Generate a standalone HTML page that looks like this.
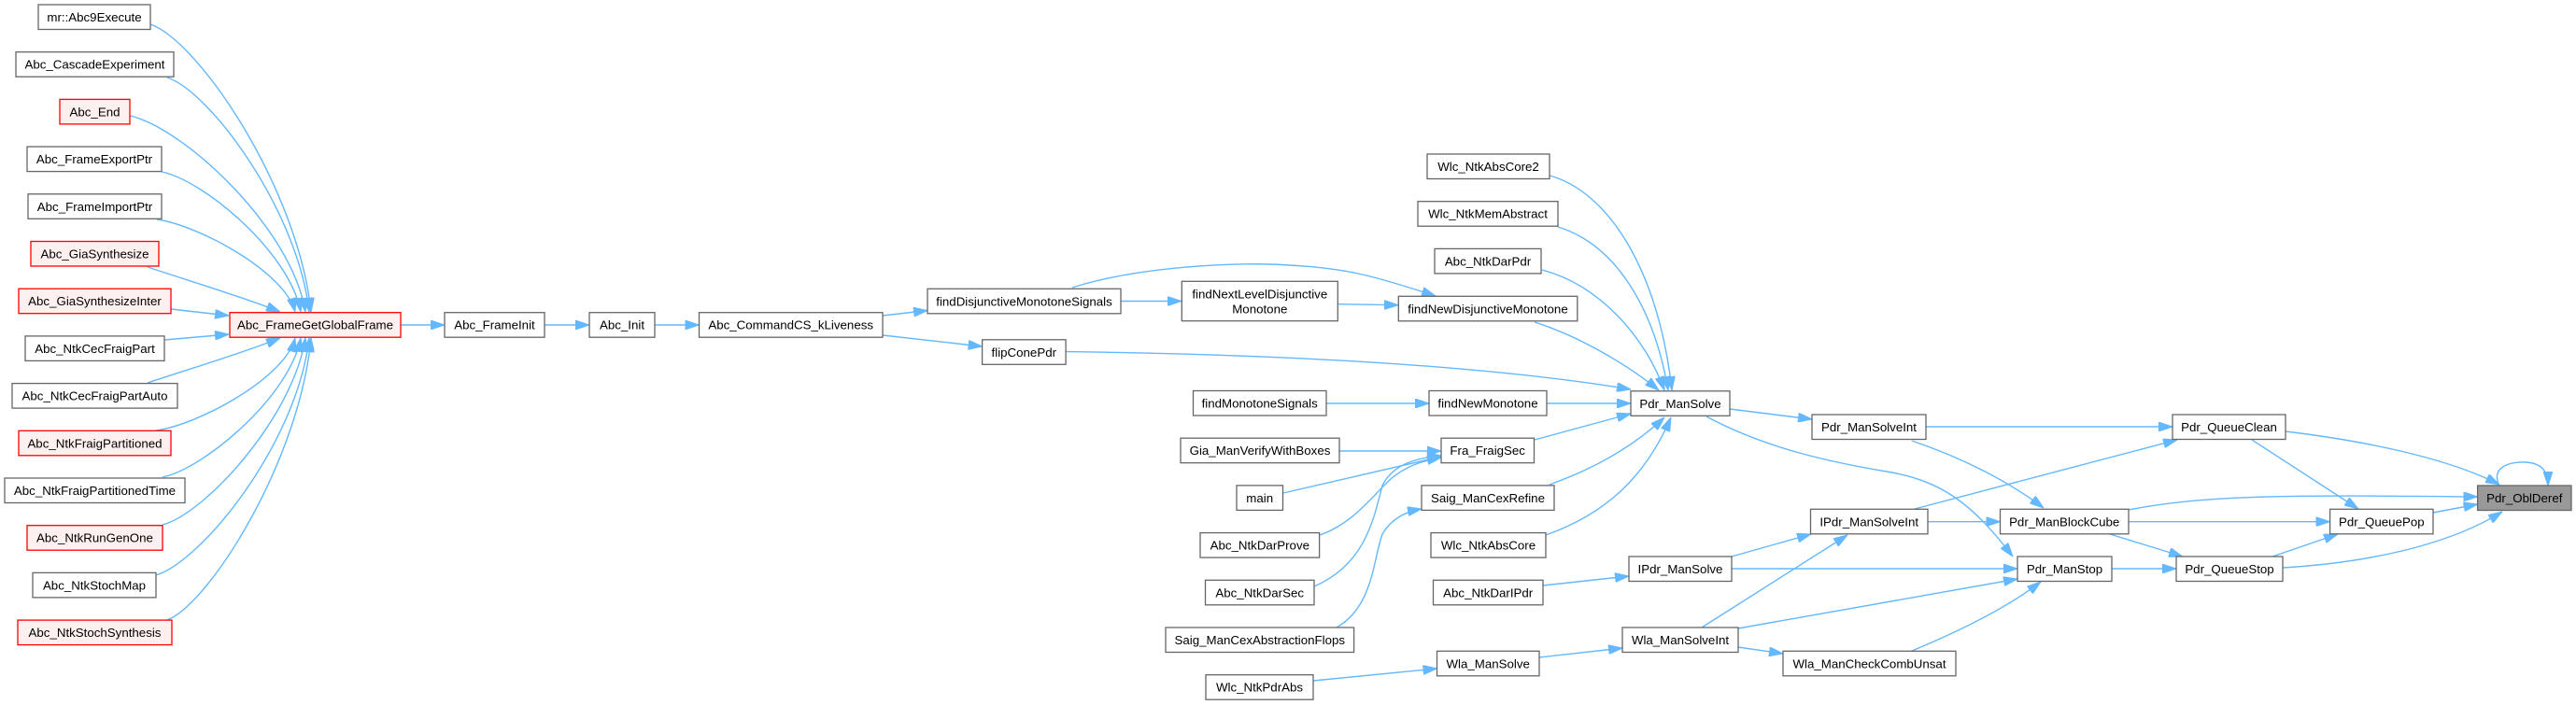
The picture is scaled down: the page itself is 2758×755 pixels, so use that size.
<!DOCTYPE html>
<html><head><meta charset="utf-8"><style>
html,body{margin:0;padding:0;background:#fff;}
svg{display:block;}
text{font-family:"Liberation Sans",Arial,Helvetica,sans-serif;font-size:13.3px;fill:#000;text-anchor:middle;}
.n{fill:#fff;stroke:#666;stroke-width:1.3;}
.r{fill:#fff0f0;stroke:#ff0000;stroke-width:1.3;}
.g{fill:#999;stroke:#666;stroke-width:1.3;}
.e{fill:none;stroke:#63b8ff;stroke-width:1.4;marker-end:url(#a);}
</style></head><body>
<svg width="2758" height="755" viewBox="0 0 2758 755" xmlns="http://www.w3.org/2000/svg">
<defs><marker id="a" markerUnits="userSpaceOnUse" markerWidth="15" markerHeight="10" refX="15" refY="5" orient="auto"><path d="M0,0 L15,5 L0,10 z" fill="#63b8ff" stroke="#63b8ff" stroke-width="1"/></marker></defs>
<rect width="2758" height="755" fill="#fff"/>

<!-- edges: left column into Abc_FrameGetGlobalFrame -->
<path class="e" d="M161,26 C213,44 319,202 333,334"/>
<path class="e" d="M179,83 C225,98 319,226 331,334"/>
<path class="e" d="M139,124 C195,136 312,243 327,334"/>
<path class="e" d="M173,184 C218,193 310,270 322,334"/>
<path class="e" d="M168,235 C212,241 305,291 316,334"/>
<path class="e" d="M158,286 C200,300 260,318 300,334"/>
<path class="e" d="M183,331 L245,338"/>
<path class="e" d="M176,364 L245,358"/>
<path class="e" d="M158,410 C200,396 260,378 300,362"/>
<path class="e" d="M167,461 C212,455 305,405 316,362"/>
<path class="e" d="M174,511 C218,502 310,425 322,362"/>
<path class="e" d="M174,562 C220,550 314,446 327,362"/>
<path class="e" d="M167,616 C216,601 318,475 331,362"/>
<path class="e" d="M179,664 C225,646 321,492 333,362"/>

<!-- chain -->
<path class="e" d="M429,348 L476,348"/>
<path class="e" d="M583,348 L631,348"/>
<path class="e" d="M701,348 L748.5,348"/>
<path class="e" d="M945,338 L993,332.5"/>
<path class="e" d="M945,359 L1051.6,371"/>
<path class="e" d="M1200,322.5 L1265,322.5"/>
<path class="e" d="M1148,308 C1220,285 1330,280 1380,284 C1440,287 1470,295 1537,317"/>
<path class="e" d="M1432,325.7 L1497,326.7"/>
<path class="e" d="M1420,432 L1530,432"/>
<path class="e" d="M1656,432 L1746,432"/>
<path class="e" d="M1141,376.5 C1400,380 1600,393 1746,417"/>

<!-- into Pdr_ManSolve from top -->
<path class="e" d="M1659,188 C1722,205 1776,290 1790,418"/>
<path class="e" d="M1668,243 C1730,262 1771,330 1786,418"/>
<path class="e" d="M1651,289 C1712,305 1761,360 1782,418"/>
<path class="e" d="M1643,345 C1690,360 1742,390 1776,418"/>
<!-- into Pdr_ManSolve from below -->
<path class="e" d="M1643,471 L1746,443"/>
<path class="e" d="M1659,519 C1712,500 1752,475 1782,447"/>
<path class="e" d="M1655,573 C1720,550 1762,510 1789,447"/>

<!-- into Fra_FraigSec -->
<path class="e" d="M1434,483 L1543,483"/>
<path class="e" d="M1374,528 L1543,489"/>
<path class="e" d="M1413,573 C1450,560 1470,530 1490,512 C1505,500 1520,494 1543,490"/>
<path class="e" d="M1407,628 C1460,605 1470,560 1480,520 C1490,500 1510,491 1543,488"/>
<path class="e" d="M1431,672 C1470,650 1470,600 1480,572 C1490,555 1505,548 1522,545"/>

<!-- lower middle -->
<path class="e" d="M1652,627 L1744,617"/>
<path class="e" d="M1854,596 L1939,572"/>
<path class="e" d="M1854,609 L2160,609"/>
<path class="e" d="M1822,672 L1978,573"/>
<path class="e" d="M1861,673 L2160,620"/>
<path class="e" d="M1861,693 L1909,700"/>
<path class="e" d="M1648,704 L1737,694"/>
<path class="e" d="M1406,729 L1538.5,716"/>
<path class="e" d="M2047,697 C2100,675 2150,650 2185,623"/>

<!-- Pdr_ManSolve out -->
<path class="e" d="M1852,438 L1940,449"/>
<path class="e" d="M1827,446 C1890,480 1960,495 2020,505 C2080,515 2112,540 2155,596"/>

<!-- right region -->
<path class="e" d="M2062,457 L2326,457"/>
<path class="e" d="M2047,472 C2100,490 2150,515 2188,544"/>
<path class="e" d="M2050,545 L2331,471"/>
<path class="e" d="M2064,558.7 L2141.5,558.7"/>
<path class="e" d="M2261,609 L2330,609"/>
<path class="e" d="M2279,558.7 L2494.6,558.7"/>
<path class="e" d="M2259,572 L2337,596"/>
<path class="e" d="M2279,546 C2360,530 2450,530 2652.6,532"/>
<path class="e" d="M2411,471 L2525,545"/>
<path class="e" d="M2447,462 C2530,472 2620,490 2676,519"/>
<path class="e" d="M2433,596 L2503,572"/>
<path class="e" d="M2444,608 C2530,603 2620,585 2679,548"/>
<path class="e" d="M2605,549 L2652.6,540"/>
<path class="e" d="M2676,520 C2666,500 2688,494 2704,495 C2720,496 2728,503 2728,520"/>

<!-- nodes: left column -->
<rect class="n" x="41" y="5" width="120" height="26.5"/><text x="101" y="23">mr::Abc9Execute</text>
<rect class="n" x="17" y="55.7" width="169" height="26.5"/><text x="101.5" y="73.7">Abc_CascadeExperiment</text>
<rect class="r" x="64" y="106.4" width="75" height="26.5"/><text x="101.5" y="124.4">Abc_End</text>
<rect class="n" x="29" y="157.1" width="144" height="26.5"/><text x="101" y="175.1">Abc_FrameExportPtr</text>
<rect class="n" x="30" y="207.8" width="143" height="26.5"/><text x="101.5" y="225.8">Abc_FrameImportPtr</text>
<rect class="r" x="33" y="258.5" width="137" height="26.5"/><text x="101.5" y="276.5">Abc_GiaSynthesize</text>
<rect class="r" x="20" y="309.2" width="163" height="26.5"/><text x="101.5" y="327.2">Abc_GiaSynthesizeInter</text>
<rect class="n" x="27" y="359.9" width="149" height="26.5"/><text x="101.5" y="377.9">Abc_NtkCecFraigPart</text>
<rect class="n" x="13" y="410.6" width="177" height="26.5"/><text x="101.5" y="428.6">Abc_NtkCecFraigPartAuto</text>
<rect class="r" x="20" y="461.3" width="163" height="26.5"/><text x="101.5" y="479.3">Abc_NtkFraigPartitioned</text>
<rect class="n" x="5" y="512" width="193" height="26.5"/><text x="101.5" y="530">Abc_NtkFraigPartitionedTime</text>
<rect class="r" x="29" y="562.7" width="145" height="26.5"/><text x="101.5" y="580.7">Abc_NtkRunGenOne</text>
<rect class="n" x="35" y="613.4" width="132" height="26.5"/><text x="101" y="631.4">Abc_NtkStochMap</text>
<rect class="r" x="19" y="664.1" width="165" height="26.5"/><text x="101.5" y="682.1">Abc_NtkStochSynthesis</text>

<!-- chain nodes -->
<rect class="r" x="246" y="334.7" width="183" height="26.5"/><text x="337.5" y="352.7">Abc_FrameGetGlobalFrame</text>
<rect class="n" x="476" y="334.7" width="107" height="26.5"/><text x="529.5" y="352.7">Abc_FrameInit</text>
<rect class="n" x="631" y="334.7" width="70" height="26.5"/><text x="666" y="352.7">Abc_Init</text>
<rect class="n" x="748.5" y="334.7" width="196.5" height="26.5"/><text x="846.7" y="352.7">Abc_CommandCS_kLiveness</text>
<rect class="n" x="993" y="309.3" width="207" height="26.5"/><text x="1096.5" y="327.3">findDisjunctiveMonotoneSignals</text>
<rect class="n" x="1265.3" y="301.3" width="167" height="42.4"/><text x="1348.8" y="319.5">findNextLevelDisjunctive</text><text x="1348.8" y="335.5">Monotone</text>
<rect class="n" x="1051.6" y="363.8" width="89.5" height="26.5"/><text x="1096.3" y="381.8">flipConePdr</text>

<!-- middle column -->
<rect class="n" x="1528" y="165" width="131" height="26.5"/><text x="1593.5" y="183">Wlc_NtkAbsCore2</text>
<rect class="n" x="1518" y="215.7" width="150" height="26.5"/><text x="1593" y="233.7">Wlc_NtkMemAbstract</text>
<rect class="n" x="1536" y="266.4" width="114" height="26.5"/><text x="1593" y="284.4">Abc_NtkDarPdr</text>
<rect class="n" x="1497.3" y="317.3" width="191.5" height="26.5"/><text x="1593" y="335.3">findNewDisjunctiveMonotone</text>
<rect class="n" x="1277.5" y="418.5" width="142.5" height="26.5"/><text x="1348.7" y="436.5">findMonotoneSignals</text>
<rect class="n" x="1530" y="418.5" width="126" height="26.5"/><text x="1593" y="436.5">findNewMonotone</text>
<rect class="n" x="1264" y="469.2" width="170" height="26.5"/><text x="1349" y="487.2">Gia_ManVerifyWithBoxes</text>
<rect class="n" x="1543" y="469.2" width="99.5" height="26.5"/><text x="1592.7" y="487.2">Fra_FraigSec</text>
<rect class="n" x="1324" y="519.9" width="49.5" height="26.5"/><text x="1348.7" y="537.9">main</text>
<rect class="n" x="1522" y="519.9" width="142" height="26.5"/><text x="1593" y="537.9">Saig_ManCexRefine</text>
<rect class="n" x="1285" y="570.6" width="127.6" height="26.5"/><text x="1348.8" y="588.6">Abc_NtkDarProve</text>
<rect class="n" x="1532" y="570.6" width="123" height="26.5"/><text x="1593.5" y="588.6">Wlc_NtkAbsCore</text>
<rect class="n" x="1290.5" y="621.3" width="116.5" height="26.5"/><text x="1348.7" y="639.3">Abc_NtkDarSec</text>
<rect class="n" x="1534.5" y="621.3" width="117.5" height="26.5"/><text x="1593.2" y="639.3">Abc_NtkDarIPdr</text>
<rect class="n" x="1248" y="672" width="201.6" height="26.5"/><text x="1348.8" y="690">Saig_ManCexAbstractionFlops</text>
<rect class="n" x="1291" y="722.7" width="115" height="26.5"/><text x="1348.5" y="740.7">Wlc_NtkPdrAbs</text>
<rect class="n" x="1538.5" y="697.3" width="109.5" height="26.5"/><text x="1593.2" y="715.3">Wla_ManSolve</text>

<!-- Pdr column -->
<rect class="n" x="1746" y="418.8" width="106" height="26.5"/><text x="1799" y="436.8">Pdr_ManSolve</text>
<rect class="n" x="1744" y="596" width="110" height="26.5"/><text x="1799" y="614">IPdr_ManSolve</text>
<rect class="n" x="1737" y="672" width="124" height="26.5"/><text x="1799" y="690">Wla_ManSolveInt</text>
<rect class="n" x="1940" y="444" width="122" height="26.5"/><text x="2001" y="462">Pdr_ManSolveInt</text>
<rect class="n" x="1938.5" y="545.3" width="125.5" height="26.5"/><text x="2001.2" y="563.3">IPdr_ManSolveInt</text>
<rect class="n" x="1909" y="697.3" width="185" height="26.5"/><text x="2001.5" y="715.3">Wla_ManCheckCombUnsat</text>
<rect class="n" x="2141.5" y="545.3" width="137.5" height="26.5"/><text x="2210.2" y="563.3">Pdr_ManBlockCube</text>
<rect class="n" x="2160" y="596" width="101" height="26.5"/><text x="2210.5" y="614">Pdr_ManStop</text>
<rect class="n" x="2326" y="444" width="121" height="26.5"/><text x="2386.5" y="462">Pdr_QueueClean</text>
<rect class="n" x="2330" y="596" width="114" height="26.5"/><text x="2387" y="614">Pdr_QueueStop</text>
<rect class="n" x="2494.6" y="545.3" width="110.4" height="26.5"/><text x="2549.8" y="563.3">Pdr_QueuePop</text>
<rect class="g" x="2652.6" y="520" width="100.4" height="26.5"/><text x="2702.8" y="538">Pdr_OblDeref</text>
</svg>
</body></html>
